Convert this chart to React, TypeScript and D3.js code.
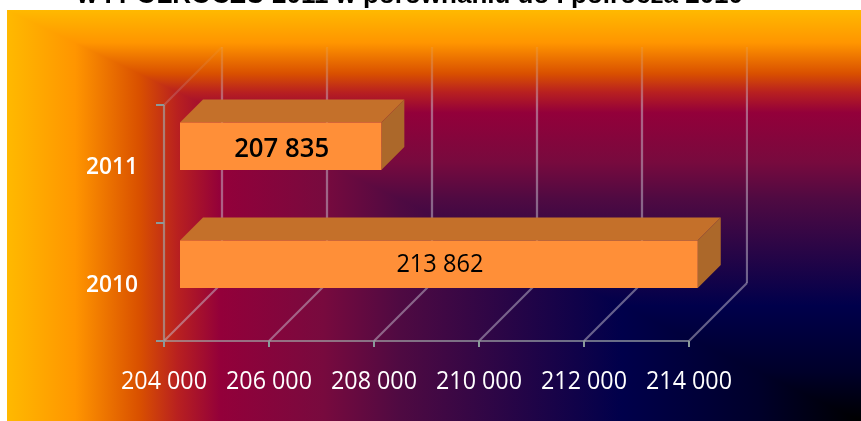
import React from "react";
import * as d3 from "d3";

const years = ["2010", "2011"];
const values = [213862, 207835];
const valueLabels = ["213 862", "207 835"];
const tickValues = [204000, 206000, 208000, 210000, 212000, 214000];
const gradientStops = [
  [0, "#ffb900"],
  [0.08, "#ff9500"],
  [0.155, "#d95000"],
  [0.2, "#b82020"],
  [0.25, "#93003a"],
  [0.37, "#780a3e"],
  [0.46, "#4f0a42"],
  [0.72, "#00004b"],
  [0.88, "#00002a"],
  [1, "#000000"],
];

const W = 861;
const H = 421;
const left = 7;
const top = 10;

const x = d3.scaleLinear().domain([204000, 214000]).range([164, 689]);
const y = d3.scaleBand().domain(years).range([341, 105]);

// depth of the fake 3d floor, and where the bars sit inside it
const depth = 58;
const barFront = 16;
const barDepth = 23;
const barHeight = 47.5;

const fmt = (v: number) => d3.format(",")(v).replace(",", " ");
const poly = (pts: number[][]) => pts.map((p) => p.join(",")).join(" ");

const Stops = () => (
  <>
    {gradientStops.map(([o, c]) => (
      <stop key={o as number} offset={o as number} stopColor={c as string} />
    ))}
  </>
);

export default function App() {
  const axisY = y.range()[0];
  const topY = y.range()[1];
  return (
    <svg
      width={W}
      height={H}
      style={{ position: "absolute", left: 0, top: 0, background: "#fff" }}
    >
      <defs>
        <linearGradient id="bgV" x1="0" y1="0" x2="0" y2="1">
          <Stops />
        </linearGradient>
        <linearGradient id="bgH" x1="0" y1="0" x2="1" y2="0">
          <Stops />
        </linearGradient>
        <linearGradient
          id="gridFade"
          gradientUnits="userSpaceOnUse"
          x1="0"
          y1={topY - depth}
          x2="0"
          y2={topY}
        >
          <stop offset={0} stopColor="#c8c0d0" stopOpacity={0.12} />
          <stop offset={1} stopColor="#c8c0d0" stopOpacity={0.5} />
        </linearGradient>
        <clipPath id="lowerLeft">
          <polygon points={poly([[left, top], [W, H], [left, H]])} />
        </clipPath>
        <filter id="soft" x="0" y="0" width="100%" height="100%">
          <feGaussianBlur stdDeviation={0.6} />
        </filter>
      </defs>

      <text
        x={410}
        y={3}
        textAnchor="middle"
        fontFamily="'Liberation Sans', Arial, sans-serif"
        fontWeight="bold"
        fontSize={26}
        fill="#000"
        filter="url(#soft)"
      >
        w  I PÓŁROCZU 2011  w porównaniu do I półrocza 2010
      </text>

      <rect x={left} y={top} width={W - left} height={H - top} fill="url(#bgV)" />
      <rect
        x={left}
        y={top}
        width={W - left}
        height={H - top}
        fill="url(#bgH)"
        clipPath="url(#lowerLeft)"
      />

      <g filter="url(#soft)">
        {/* walls and gridlines */}
        <g fill="none" stroke="url(#gridFade)" strokeWidth={2.2}>
          {tickValues.map((t) => (
            <line
              key={t}
              x1={x(t) + depth}
              x2={x(t) + depth + 0.01}
              y1={axisY - depth}
              y2={topY - depth}
            />
          ))}
        </g>
        <g fill="none" stroke="#c8c0d0" strokeOpacity={0.5} strokeWidth={2.2}>
          {tickValues.map((t) => (
            <line
              key={t}
              x1={x(t)}
              y1={axisY}
              x2={x(t) + depth}
              y2={axisY - depth}
            />
          ))}
          <polyline
            points={poly([
              [x(204000), topY],
              [x(204000), axisY],
              [x(214000), axisY],
            ])}
            stroke="#a0a8a8"
            strokeOpacity={0.65}
          />
          <line
            x1={x(204000)}
            y1={topY}
            x2={x(204000) + depth}
            y2={topY - depth}
            stroke="url(#gridFade)"
          />
        </g>

        {/* tick marks */}
        <g stroke="#8a9a9a" strokeWidth={2}>
          {tickValues.map((t) => (
            <line key={t} x1={x(t)} x2={x(t)} y1={axisY} y2={axisY + 6} />
          ))}
          {[...years.map((d) => y(d)!), axisY].map((p) => (
            <line key={p} x1={156} x2={164} y1={p} y2={p} />
          ))}
        </g>

        {/* bars */}
        {years.map((d, i) => {
          const x0 = x(204000) + barFront;
          const x1 = x(values[i]) + barFront;
          const bottom = y(d)! + y.bandwidth() / 2 + 6;
          const faceTop = bottom - barHeight;
          return (
            <g key={d}>
              <polygon
                fill="#c4702c"
                points={poly([
                  [x0, faceTop],
                  [x0 + barDepth, faceTop - barDepth],
                  [x1 + barDepth, faceTop - barDepth],
                  [x1, faceTop],
                ])}
              />
              <polygon
                fill="#ac682a"
                points={poly([
                  [x1, faceTop],
                  [x1 + barDepth, faceTop - barDepth],
                  [x1 + barDepth, bottom - barDepth],
                  [x1, bottom],
                ])}
              />
              <rect
                x={x0}
                y={faceTop}
                width={x1 - x0}
                height={barHeight}
                fill="#ff8f38"
              />
              <text
                x={(x0 + x1) / 2 + 1}
                y={faceTop + (i === 1 ? 34 : 31.5)}
                textAnchor="middle"
                fontFamily="'Open Sans', sans-serif"
                fontSize={i === 1 ? 27 : 26}
                fontWeight={i === 1 ? 600 : 400}
                fill="#000"
                textLength={i === 1 ? 95 : 87}
                lengthAdjust="spacingAndGlyphs"
              >
                {valueLabels[i]}
              </text>
            </g>
          );
        })}

        {/* axis labels */}
        {tickValues.map((t) => (
          <text
            key={t}
            x={x(t)}
            y={389}
            textAnchor="middle"
            fontFamily="'Open Sans', sans-serif"
            fontWeight={400}
            fontSize={25}
            fill="#fff"
            textLength={86}
            lengthAdjust="spacingAndGlyphs"
          >
            {fmt(t)}
          </text>
        ))}
        {years.map((d) => (
          <text
            key={d}
            x={112}
            y={y(d)! + y.bandwidth() / 2 + 9.5}
            textAnchor="middle"
            fontFamily="'Open Sans', sans-serif"
            fontWeight={600}
            fontSize={24}
            fill="#fff"
            textLength={52}
            lengthAdjust="spacingAndGlyphs"
          >
            {d}
          </text>
        ))}
      </g>
    </svg>
  );
}
